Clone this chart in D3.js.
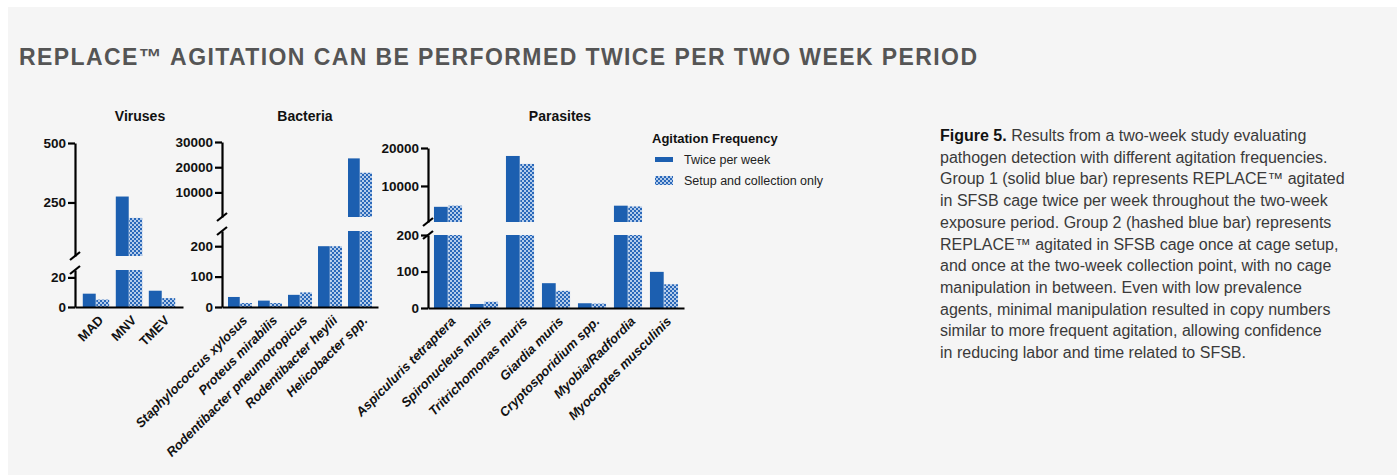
<!DOCTYPE html>
<html><head><meta charset="utf-8">
<script src="https://cdn.jsdelivr.net/npm/d3@7"></script>
<style>
body{margin:0;background:#fff;}
svg{display:block;}
</style></head>
<body>
<svg id="chart" width="1397" height="475"></svg>
<script>
// ---------- data ----------
const seriesNames = ["Twice per week", "Setup and collection only"];

const virusCategories = ["MAD", "MNV", "TMEV"];
const virusTwice = [9, 275, 11];
const virusSetup = [5, 185, 6];
const virusTicksUpper = [250, 500];
const virusTicksLower = [0, 20];

const bacteriaCategories = ["Staphylococcus xylosus", "Proteus mirabilis", "Rodentibacter pneumotropicus", "Rodentibacter heylii", "Helicobacter spp."];
const bacteriaTwice = [33, 21, 40, 200, 23500];
const bacteriaSetup = [13, 13, 48, 200, 17800];
const bacteriaTicksUpper = [10000, 20000, 30000];
const bacteriaTicksLower = [0, 100, 200];

const parasiteCategories = ["Aspiculuris tetraptera", "Spironucleus muris", "Tritrichomonas muris", "Giardia muris", "Cryptosporidium spp.", "Myobia/Radfordia", "Myocoptes musculinis"];
const parasiteTwice = [4500, 11, 17900, 68, 13, 4800, 99];
const parasiteSetup = [4800, 17, 15800, 47, 12, 4600, 65];
const parasiteTicksUpper = [10000, 20000];
const parasiteTicksLower = [0, 100, 200];

const titleText = "REPLACE\u2122 AGITATION CAN BE PERFORMED TWICE PER TWO WEEK PERIOD";
const captionLines = [
  ["Figure 5.", " Results from a two-week study evaluating"],
  ["", "pathogen detection with different agitation frequencies."],
  ["", "Group 1 (solid blue bar) represents REPLACE\u2122 agitated"],
  ["", "in SFSB cage twice per week throughout the two-week"],
  ["", "exposure period. Group 2 (hashed blue bar) represents"],
  ["", "REPLACE\u2122 agitated in SFSB cage once at cage setup,"],
  ["", "and once at the two-week collection point, with no cage"],
  ["", "manipulation in between. Even with low prevalence"],
  ["", "agents, minimal manipulation resulted in copy numbers"],
  ["", "similar to more frequent agitation, allowing confidence"],
  ["", "in reducing labor and time related to SFSB."]
];

// ---------- drawing ----------
const FONT = "'Liberation Sans', Arial, Helvetica, sans-serif";
const BLUE = "#1c5fb0";
const svg = d3.select("#chart");

svg.append("rect").attr("x", 8).attr("y", 7).attr("width", 1397 - 8).attr("height", 475 - 7).attr("fill", "#f5f5f5");

const defs = svg.append("defs");
const pat = defs.append("pattern").attr("id", "checker").attr("patternUnits", "userSpaceOnUse")
  .attr("width", 4).attr("height", 4);
pat.append("rect").attr("width", 4).attr("height", 4).attr("fill", "#b3cbea");
pat.append("rect").attr("width", 2).attr("height", 2).attr("fill", "#2a68b9");
pat.append("rect").attr("x", 2).attr("y", 2).attr("width", 2).attr("height", 2).attr("fill", "#2a68b9");

svg.append("text").attr("x", 19).attr("y", 65)
  .attr("font-family", FONT).attr("font-weight", "bold").attr("font-size", 23)
  .attr("fill", "#555").attr("textLength", 958).attr("lengthAdjust", "spacing").text(titleText);

function drawPanel(p) {
  const g = svg.append("g");
  const x = d3.scaleBand().domain(p.categories).range([p.x0, p.x1])
    .paddingInner(p.padIn).paddingOuter(p.padOut);
  const xs = d3.scaleBand().domain([0, 1]).range([0, x.bandwidth()]).paddingInner(0.04);
  const segs = p.segments.map(s => ({
    lo: s.domain[0], hi: s.domain[1], ticks: s.ticks,
    y: d3.scaleLinear().domain(s.domain).range(s.range)
  }));
  // bars
  p.categories.forEach((c, i) => {
    [p.a[i], p.b[i]].forEach((v, k) => {
      segs.forEach(s => {
        if (v <= s.lo) return;
        const top = s.y(Math.min(v, s.hi));
        const bot = s.y(s.lo);
        g.append("rect").attr("x", x(c) + xs(k)).attr("width", xs.bandwidth())
          .attr("y", top).attr("height", bot - top)
          .attr("fill", k === 0 ? BLUE : "url(#checker)");
      });
    });
  });
  // y axes
  segs.forEach(s => {
    const ax = g.append("g").attr("transform", `translate(${p.x0},0)`)
      .call(d3.axisLeft(s.y).tickValues(s.ticks).tickFormat(d3.format("d"))
        .tickSize(7).tickSizeOuter(0).tickPadding(2));
    ax.select(".domain").attr("stroke", "#000").attr("stroke-width", 2.2);
    ax.selectAll(".tick line").attr("stroke", "#000").attr("stroke-width", 2.2);
    ax.selectAll(".tick text").attr("font-family", FONT).attr("font-weight", "bold")
      .attr("font-size", 13.5).attr("fill", "#111");
  });
  // break marks
  const yUpperBottom = segs[0].y(segs[0].lo);
  const yLowerTop = segs[1].y(segs[1].hi);
  [yUpperBottom, yLowerTop].forEach(yy => {
    g.append("line").attr("x1", p.x0 - 5).attr("y1", yy + 4).attr("x2", p.x0 + 5).attr("y2", yy - 4)
      .attr("stroke", "#000").attr("stroke-width", 2.2);
  });
  // x axis
  const xa = g.append("g").attr("transform", `translate(0,${segs[1].y(0)})`)
    .call(d3.axisBottom(x).tickSize(0).tickSizeOuter(0).tickFormat(""));
  xa.select(".domain").attr("stroke", "#000").attr("stroke-width", 2.2);
  p.categories.forEach(c => {
    const cx = x(c) + x.bandwidth() / 2;
    g.append("text").attr("transform", `translate(${cx + 5},${segs[1].y(0) + 11}) rotate(-45)`)
      .attr("text-anchor", "end").attr("dy", "0.35em")
      .attr("font-family", FONT).attr("font-weight", "bold").attr("font-size", 13)
      .attr("font-style", p.italic ? "italic" : "normal").attr("fill", "#111").text(c);
  });
  // title
  g.append("text").attr("x", p.titleX).attr("y", 121).attr("text-anchor", "middle")
    .attr("font-family", FONT).attr("font-weight", "bold").attr("font-size", 14)
    .attr("fill", "#111").text(p.title);
}

drawPanel({
  title: "Viruses", titleX: 140, categories: virusCategories, a: virusTwice, b: virusSetup,
  x0: 75, x1: 183, padIn: 0.2, padOut: 0.236, italic: false,
  segments: [
    { domain: [25, 500], range: [256, 143], ticks: virusTicksUpper },
    { domain: [0, 25], range: [307, 270], ticks: virusTicksLower }
  ]
});
drawPanel({
  title: "Bacteria", titleX: 305, categories: bacteriaCategories, a: bacteriaTwice, b: bacteriaSetup,
  x0: 222, x1: 378, padIn: 0.2, padOut: 0.2, italic: true,
  segments: [
    { domain: [250, 30000], range: [217, 142], ticks: bacteriaTicksUpper },
    { domain: [0, 250], range: [307, 231], ticks: bacteriaTicksLower }
  ]
});
drawPanel({
  title: "Parasites", titleX: 560, categories: parasiteCategories, a: parasiteTwice, b: parasiteSetup,
  x0: 428, x1: 684, padIn: 0.22, padOut: 0.166, italic: true,
  segments: [
    { domain: [500, 20000], range: [222, 148], ticks: parasiteTicksUpper },
    { domain: [0, 200], range: [308, 235], ticks: parasiteTicksLower }
  ]
});

// legend
const lg = svg.append("g");
lg.append("text").attr("x", 652).attr("y", 143).attr("font-family", FONT).attr("font-weight", "bold")
  .attr("font-size", 13).attr("fill", "#111").text("Agitation Frequency");
seriesNames.forEach((n, i) => {
  lg.append("rect").attr("x", 655).attr("y", i === 0 ? 157 : 176).attr("width", 18).attr("height", i === 0 ? 5 : 9)
    .attr("fill", i === 0 ? BLUE : "url(#checker)");
  lg.append("text").attr("x", 684).attr("y", i === 0 ? 164 : 185).attr("font-family", FONT)
    .attr("font-size", 12.5).attr("fill", "#222").text(n);
});

// caption
const cap = svg.append("text").attr("font-family", FONT).attr("font-size", 16).attr("fill", "#3a3a3a");
captionLines.forEach((ln, i) => {
  const t = cap.append("tspan").attr("x", 940).attr("y", 141 + i * 21.7);
  if (ln[0]) t.append("tspan").attr("font-weight", "bold").attr("fill", "#111").text(ln[0]);
  t.append("tspan").text(ln[1]);
});
</script>
</body></html>
